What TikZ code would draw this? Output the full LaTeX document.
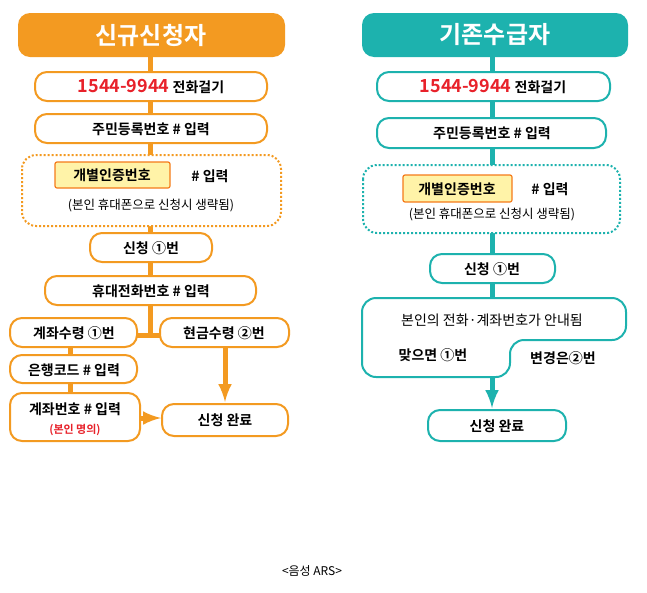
\documentclass[tikz,border=0pt]{standalone}
\usepackage{fontspec}
\setmainfont{Noto Sans CJK KR}
\newfontfamily\kb{Noto Sans CJK KR Bold}
\begin{document}
\begin{tikzpicture}[x=1pt,y=-1pt,
  every node/.style={font=\kb\fontsize{14}{16}\selectfont},
  obox/.style={draw=org,line width=2pt,rounded corners=12pt,fill=white},
  tbox/.style={draw=teal2,line width=2pt,rounded corners=12pt,fill=white},
  ocon/.style={draw=org,line width=5pt},
  tcon/.style={draw=teal2,line width=5pt},
  lbl/.style={inner sep=0pt}]
\definecolor{org}{HTML}{F39A21}
\definecolor{teal2}{HTML}{1DB2AE}
\definecolor{rd}{HTML}{E8212A}
\definecolor{yl}{HTML}{FFF3A8}
\useasboundingbox (0,0) rectangle (647,592);
% ---------------- left
\draw[ocon] (150,50) -- (150,335) -- (137,335);
\draw[ocon] (150,335) -- (160,335);
\draw[ocon] (70,347) -- (70,393);
\draw[ocon,-latex] (225,347) -- (225,402);
\draw[ocon,-latex] (140,418) -- (161,418);
\fill[org,rounded corners=12pt] (18,13) rectangle (285,57);
\node[text=white,lbl,font=\kb\fontsize{24}{26}\selectfont] (lh) at (151,35) {신규신청자};
\draw[obox] (35,72) rectangle (267,101);
\node[lbl] (l1) at (151,87) {\textcolor{rd}{\fontsize{18}{20}\selectfont 1544-9944} 전화걸기};
\draw[obox] (35,114) rectangle (267,143);
\node[lbl] (l2) at (151,129) {주민등록번호 \# 입력};
\draw[org,line width=2pt,dotted,rounded corners=14pt,fill=white] (22,155) rectangle (281,226);
\draw[draw=org!80!red,fill=yl,line width=1.2pt,rounded corners=2pt] (55,162) rectangle (170,188);
\node[lbl] (l3a) at (112,175) {개별인증번호};
\node[lbl] (l3b) at (210,176) {\# 입력};
\node[lbl,font=\fontsize{12.5}{14}\selectfont] (l3c) at (151,206) {(본인 휴대폰으로 신청시 생략됨)};
\draw[obox] (90,233) rectangle (212,262);
\node[lbl] (l4) at (151,248) {신청 ①번};
\draw[obox] (45,276) rectangle (256,305);
\node[lbl] (l5) at (151,291) {휴대전화번호 \# 입력};
\draw[obox] (10,318) rectangle (137,347);
\node[lbl] (l6) at (74,333) {계좌수령 ①번};
\draw[obox] (160,318) rectangle (289,347);
\node[lbl] (l7) at (224,333) {현금수령 ②번};
\draw[obox] (10,355) rectangle (137,383);
\node[lbl] (l8) at (74,370) {은행코드 \# 입력};
\draw[obox] (10,393) rectangle (140,441);
\node[lbl] (l9) at (75,409) {계좌번호 \# 입력};
\node[lbl,text=rd,font=\kb\fontsize{11}{13}\selectfont] (l9b) at (75,430) {(본인 명의)};
\draw[obox] (162,404) rectangle (288,436);
\node[lbl] (l10) at (225,420) {신청 완료};
% ---------------- right
\draw[tcon] (492,50) -- (492,300);
\draw[tcon,-latex] (492,377) -- (492,408);
\fill[teal2,rounded corners=12pt] (362,13) rectangle (628,57);
\node[text=white,lbl,font=\kb\fontsize{24}{26}\selectfont] (rh) at (495,35) {기존수급자};
\draw[tbox] (377,72) rectangle (610,101);
\node[lbl] (r1) at (493,87) {\textcolor{rd}{\fontsize{18}{20}\selectfont 1544-9944} 전화걸기};
\draw[tbox] (377,118) rectangle (606,148);
\node[lbl] (r2) at (492,133) {주민등록번호 \# 입력};
\draw[teal2,line width=2pt,dotted,rounded corners=14pt,fill=white] (363,165) rectangle (620,233);
\draw[draw=org!80!red,fill=yl,line width=1.2pt,rounded corners=2pt] (403,175) rectangle (512,202);
\node[lbl] (r3a) at (457,189) {개별인증번호};
\node[lbl] (r3b) at (550,189) {\# 입력};
\node[lbl,font=\fontsize{12.5}{14}\selectfont] (r3c) at (492,215) {(본인 휴대폰으로 신청시 생략됨)};
\draw[tbox] (430,254) rectangle (555,283);
\node[lbl] (r4) at (492,269) {신청 ①번};
\draw[draw=teal2,line width=2pt,rounded corners=14pt,fill=white] (362,298) -- (626,298) -- (626,340) -- (510,340) -- (510,377) -- (362,377) -- cycle;
\node[lbl,font=\fontsize{14}{16}\selectfont] (r5) at (492,320) {본인의 전화·계좌번호가 안내됨};
\node[lbl] (r6) at (433,355) {맞으면 ①번};
\node[lbl] (r7) at (563,358) {변경은②번};
\draw[tbox] (428,410) rectangle (566,441);
\node[lbl] (r8) at (497,426) {신청 완료};
\node[lbl,font=\fontsize{12}{14}\selectfont] (cap) at (312,571) {<음성 ARS>};
\end{tikzpicture}
\end{document}
